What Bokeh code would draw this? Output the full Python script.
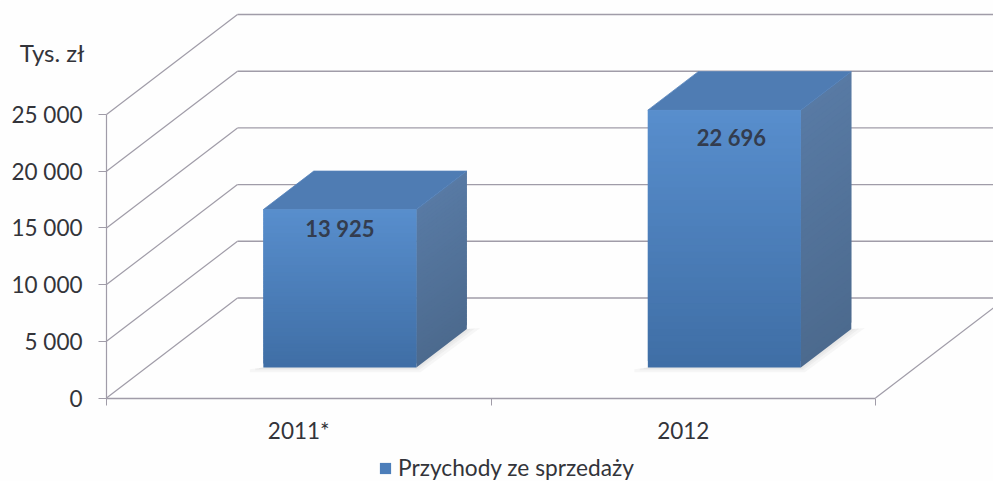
from bokeh.plotting import figure
from bokeh.models import Range1d, LinearAxis, FixedTicker, Label, Legend, LegendItem
from bokeh.core.properties import value
from bokeh.embed import file_html
from bokeh.resources import INLINE

categories = ["2011*", "2012"]
revenue = [13925, 22696]
revenue_labels = ["13 925", "22 696"]
y_ticks = [0, 5000, 10000, 15000, 20000, 25000]
y_tick_labels = ["0", "5 000", "10 000", "15 000", "20 000", "25 000"]
series_name = "Przychody ze sprzedaży"
unit_label = "Tys. zł"

FONT = "Lato"
TEXT = "#33343a"
GRID = "#a09ca8"
W, H = 993, 481
LEFT, BOTTOM = 106, 83.5
PX_X = 384.5          # pixels per category
PX_Y = 283.5 / 25000  # pixels per value unit
DX = 131 / PX_X       # depth projection, x units per unit of depth
DY = 100 / PX_Y       # depth projection, y units per unit of depth
BAR_L, BAR_R = 0.304, 0.702
D0, D1 = 0.305, 0.69  # bar depth span
N = 40


def lerp(a, b, t):
    c = [round(a[i] + (b[i] - a[i]) * t) for i in range(3)]
    return "#%02x%02x%02x" % tuple(c)


def pr(x, y, d):
    return x + d * DX, y + d * DY


x_end = (W - LEFT) / PX_X
p = figure(width=W, height=H, output_backend="svg", toolbar_location=None,
           x_range=Range1d(-LEFT / PX_X, x_end),
           y_range=Range1d(-BOTTOM / PX_Y, (H - BOTTOM) / PX_Y),
           min_border_left=0, min_border_right=0, min_border_top=0, min_border_bottom=0,
           x_axis_location=None, y_axis_location=None, outline_line_color=None)
p.grid.visible = False
p.background_fill_color = "#fefefe"
p.border_fill_color = "#fefefe"

# walls
bx0, _ = pr(0, 0, 1)
p.segment(x0=[0] * len(y_ticks), y0=y_ticks,
          x1=[bx0] * len(y_ticks), y1=[t + DY for t in y_ticks],
          line_color=GRID, line_width=1.2)
p.segment(x0=[bx0] * len(y_ticks), y0=[t + DY for t in y_ticks],
          x1=[x_end] * len(y_ticks), y1=[t + DY for t in y_ticks],
          line_color=GRID, line_width=1.4)
p.segment(x0=[2], y0=[0], x1=[2 + DX], y1=[DY], line_color=GRID, line_width=1.2)

# bars
fl, fr, fb, ft, fc = [], [], [], [], []
sx, sy, sc = [], [], []
tx, ty = [], []
lab_x, lab_y = [], []
for i, v in enumerate(revenue):
    xl, xr = i + BAR_L, i + BAR_R
    a, b0 = pr(xl, 0, D0)
    c, _ = pr(xr, 0, D0)
    dxx, dyy = (D1 - D0) * DX, (D1 - D0) * DY
    # soft floor shadow
    for grow in (1.0, 0.6, 0.3):
        ex, ey = 0.035 * grow, 420 * grow
        p.patch([a - ex, a, c + dxx, c + dxx + ex, c + ex * 0.3, a - ex],
                [b0 - ey * 0.35, b0, b0 + dyy, b0 + dyy + ey * 0.2, b0 - ey, b0 - ey],
                fill_color="#8a8a8a", fill_alpha=0.07, line_color=None)
    for k in range(N):
        y0 = b0 + v * k / N
        y1 = b0 + v * min(k + 2, N) / N
        t = (k + 0.5) / N
        fl.append(a); fr.append(c); fb.append(y0); ft.append(y1)
        fc.append(lerp((63, 110, 165), (88, 142, 205), t))
        sx.append([c, c + dxx, c + dxx, c])
        sy.append([y0, y0 + dyy, y1 + dyy, y1])
        sc.append(lerp((76, 106, 142), (88, 122, 164), t))
    top = b0 + v
    tx.append([a, c, c + dxx, a + dxx])
    ty.append([top, top, top + dyy, top + dyy])
    lab_x.append((a + c) / 2)
    lab_y.append(top)

p.patches(sx, sy, fill_color=sc, line_color=None)
p.patches(tx, ty, fill_color="#4f7cb3", line_color="#5583bb", line_width=0.8)
front = p.quad(left=fl, right=fr, bottom=fb, top=ft, fill_color=fc, line_color=None)

p.text(x=lab_x, y=lab_y, text=revenue_labels, text_font=value(FONT), text_font_style="bold",
       text_font_size="22px", text_color="#333c4e", text_align="center", text_baseline="middle",
       x_offset=[0, 7], y_offset=[19, 27])

# axes, drawn in place at the front corner of the box
ly = LinearAxis(ticker=FixedTicker(ticks=y_ticks), bounds=(0, 25000), fixed_location=0,
                major_label_overrides={t: l for t, l in zip(y_ticks, y_tick_labels)})
ly.major_tick_in = 0
ly.major_tick_out = 8
ly.minor_tick_line_color = None
ly.axis_line_color = GRID
ly.major_tick_line_color = GRID
ly.axis_line_width = 1.2
ly.major_label_text_font = FONT
ly.major_label_text_font_size = "22.5px"
ly.major_label_text_color = TEXT
ly.major_label_standoff = 16
p.add_layout(ly, "left")

lx = LinearAxis(ticker=FixedTicker(ticks=[0.5, 1.5], minor_ticks=[0, 1, 2]), bounds=(0, 2), fixed_location=0,
                major_label_overrides={0.5: categories[0], 1.5: categories[1]})
lx.major_tick_line_color = None
lx.minor_tick_in = 0
lx.minor_tick_out = 7
lx.minor_tick_line_color = GRID
lx.axis_line_color = GRID
lx.axis_line_width = 1.4
lx.major_label_text_font = FONT
lx.major_label_text_font_size = "22.5px"
lx.major_label_text_color = TEXT
lx.major_label_standoff = 12
p.add_layout(lx, "below")

p.add_layout(Label(x=-22 / PX_X, y=345.5 / PX_Y, text=unit_label, text_font=FONT, text_font_size="24px",
                   text_color=TEXT, text_align="right", text_baseline="middle"))

legend = Legend(items=[LegendItem(label=series_name, renderers=[front], index=N // 2)],
                location=(378, 0), orientation="horizontal", background_fill_alpha=0,
                border_line_color=None, label_text_font=FONT, label_text_font_size="22.7px",
                label_text_color=TEXT, glyph_width=14, glyph_height=14, label_standoff=6,
                padding=0, margin=0)
p.add_layout(legend)

open("out.html", "w").write(file_html(p, INLINE))
